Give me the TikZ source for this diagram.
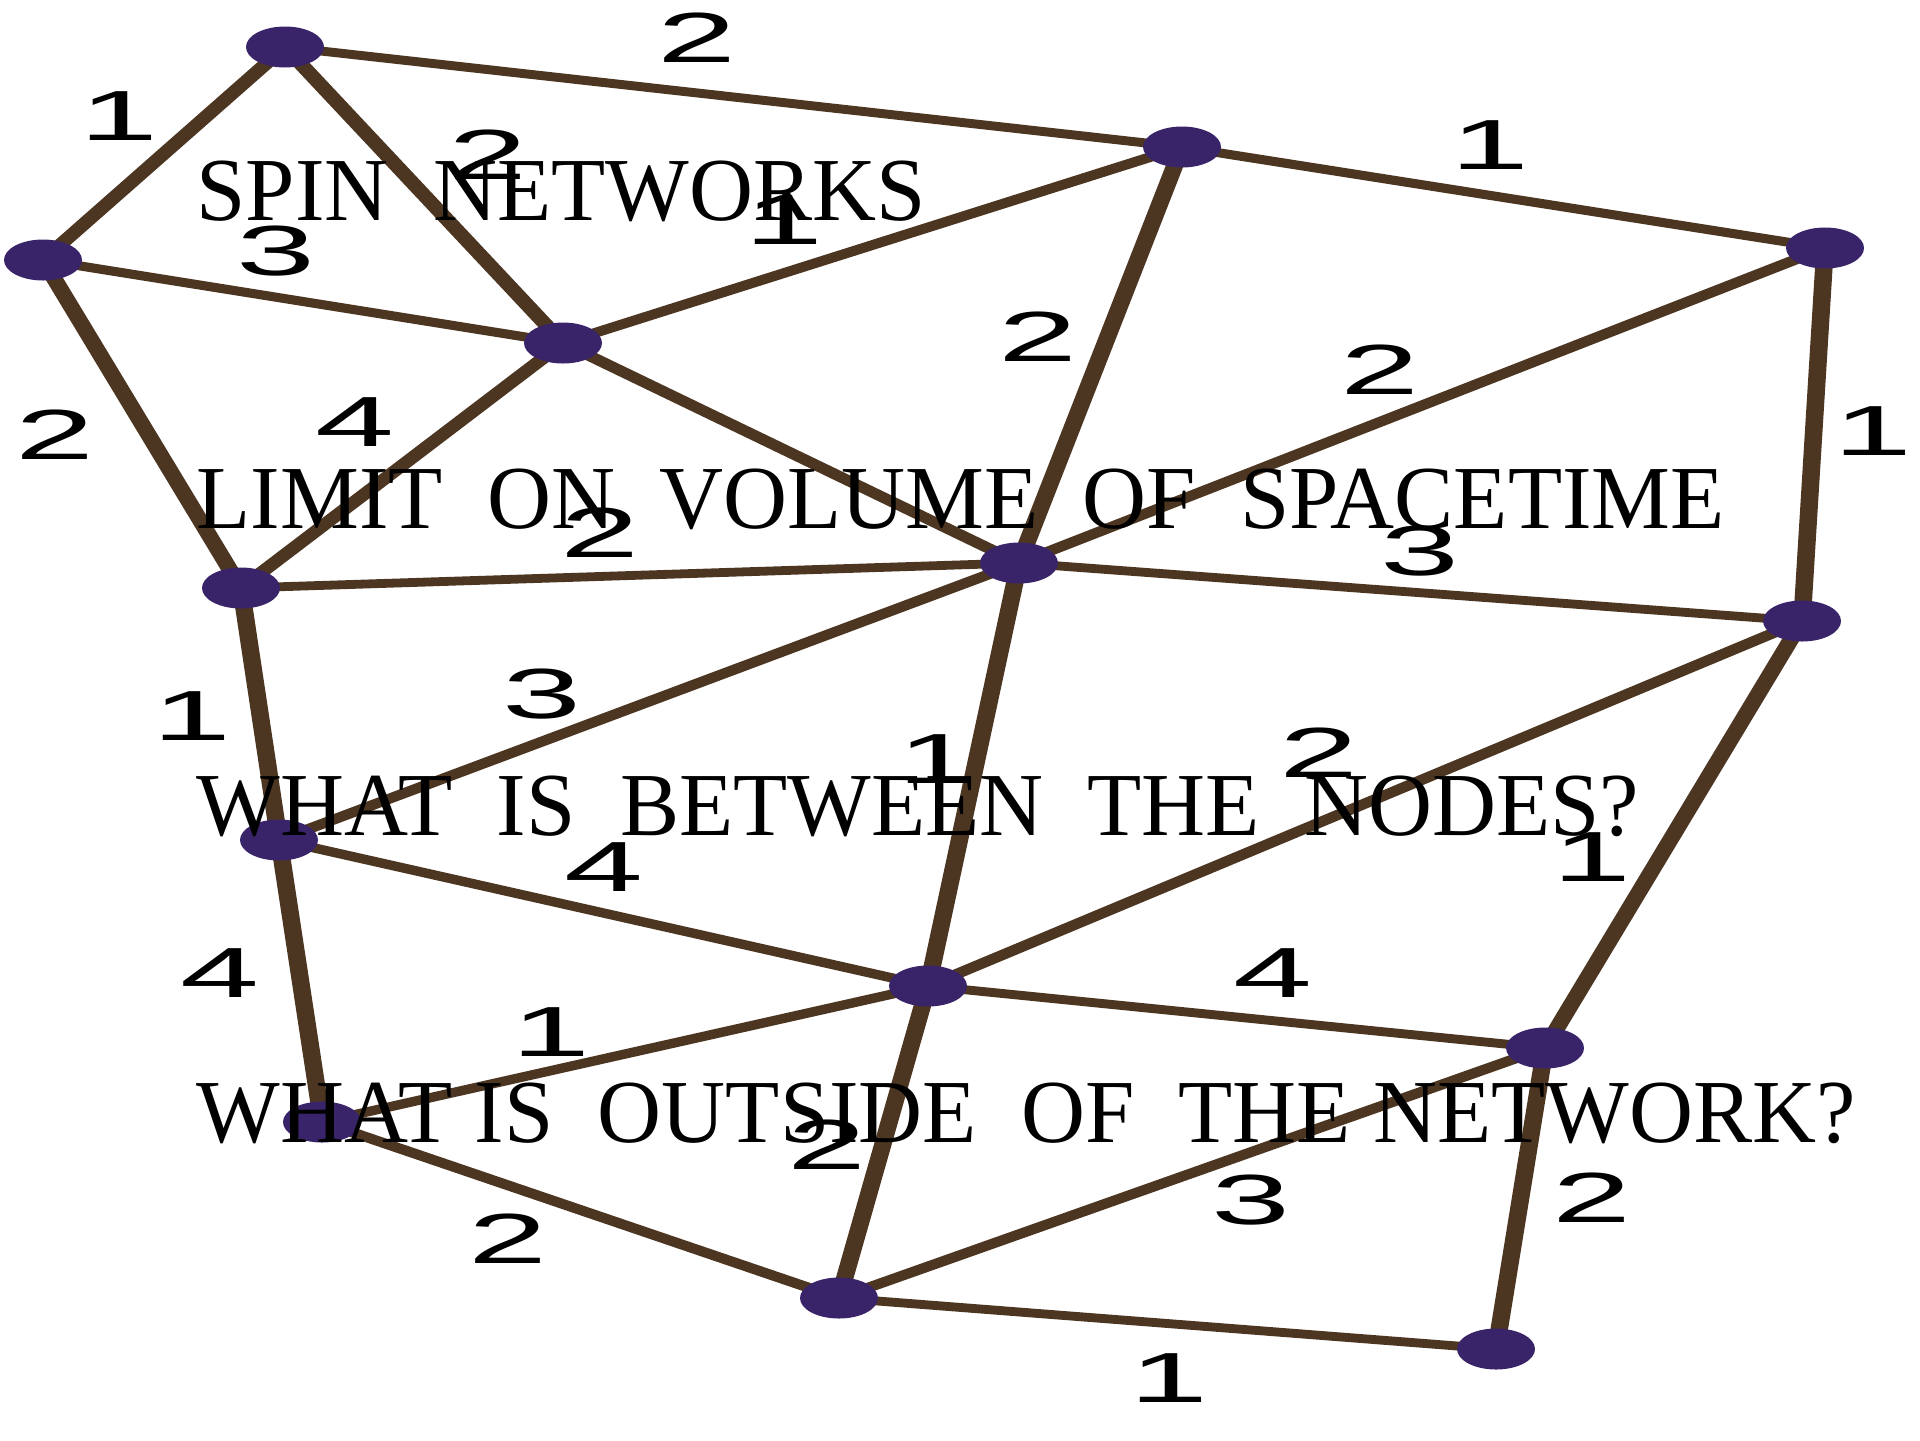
\documentclass[tikz,border=0pt]{standalone}
\usepackage{fontspec}
\usetikzlibrary{shapes.geometric}
\setmainfont{Liberation Serif}
\newfontfamily\digitfont{Liberation Sans}
\definecolor{edgebrown}{RGB}{76,54,34}
\definecolor{nodepurple}{RGB}{58,36,105}
\pgfdeclarelayer{edgelayer}
\pgfsetlayers{edgelayer,main}
\begin{document}
\begin{tikzpicture}[
  spinnode/.style={ellipse, fill=nodepurple, inner sep=0pt, minimum width=0.39cm, minimum height=0.41cm},
  spinedge/.style={draw=edgebrown, line width=2.5pt},
  spinlabel/.style={font=\digitfont\fontsize{20.2}{21}\selectfont, inner sep=0pt},
  caption/.style={font=\fontsize{25.6}{26}\selectfont, anchor=base west, inner sep=0pt}
]
\begin{pgfonlayer}{edgelayer}
\fill[white] (0,0) rectangle (19.2,-14.4);
\end{pgfonlayer}
\useasboundingbox (0,0) rectangle (19.2,-14.4);
\begin{scope}[transform canvas={xscale=2}]
  \node[spinnode] (A) at (1.425,-0.47) {};
  \node[spinnode] (B) at (5.91,-1.47) {};
  \node[spinnode] (C) at (9.125,-2.48) {};
  \node[spinnode] (D) at (0.215,-2.60) {};
  \node[spinnode] (E) at (2.815,-3.43) {};
  \node[spinnode] (F) at (5.095,-5.63) {};
  \node[spinnode] (G) at (1.205,-5.88) {};
  \node[spinnode] (H) at (9.01,-6.21) {};
  \node[spinnode] (I) at (1.395,-8.40) {};
  \node[spinnode] (J) at (4.64,-9.86) {};
  \node[spinnode] (K) at (7.725,-10.48) {};
  \node[spinnode] (L) at (1.61,-11.22) {};
  \node[spinnode] (M) at (4.195,-12.98) {};
  \node[spinnode] (N) at (7.48,-13.49) {};
  \node[spinlabel] (lAB) at (3.485,-0.38) {2};
  \node[spinlabel] (lBC) at (7.45,-1.45) {1};
  \node[spinlabel] (lAD) at (0.595,-1.16) {1};
  \node[spinlabel] (lAE) at (2.44,-1.55) {2};
  \node[spinlabel] (lDE) at (1.38,-2.51) {3};
  \node[spinlabel] (lEB) at (3.92,-2.20) {1};
  \node[spinlabel] (lBF) at (5.19,-3.37) {2};
  \node[spinlabel] (lCF) at (6.90,-3.70) {2};
  \node[spinlabel] (lCH) at (9.365,-4.31) {1};
  \node[spinlabel] (lDG) at (0.275,-4.35) {2};
  \node[spinlabel] (lEG) at (1.775,-4.22) {4};
  \node[spinlabel] (lGF) at (3.00,-5.33) {2};
  \node[spinlabel] (lFH) at (7.10,-5.51) {3};
  \node[spinlabel] (lGI) at (0.96,-7.16) {1};
  \node[spinlabel] (lIF) at (2.71,-6.94) {3};
  \node[spinlabel] (lFJ) at (4.685,-7.59) {1};
  \node[spinlabel] (lJH) at (6.595,-7.53) {2};
  \node[spinlabel] (lHK) at (7.96,-8.57) {1};
  \node[spinlabel] (lIJ) at (3.02,-8.67) {4};
  \node[spinlabel] (lIL) at (1.10,-9.73) {4};
  \node[spinlabel] (lJK) at (6.365,-9.73) {4};
  \node[spinlabel] (lJL) at (2.755,-10.32) {1};
  \node[spinlabel] (lJM) at (4.135,-11.45) {2};
  \node[spinlabel] (lLM) at (2.54,-12.39) {2};
  \node[spinlabel] (lMK) at (6.255,-12.00) {3};
  \node[spinlabel] (lKN) at (7.96,-11.98) {2};
  \node[spinlabel] (lMN) at (5.845,-13.78) {1};
\end{scope}
\begin{pgfonlayer}{edgelayer}
\begin{scope}[transform canvas={xscale=2}]
  \draw[spinedge] (A.center) -- (B.center);
  \draw[spinedge] (B.center) -- (C.center);
  \draw[spinedge] (A.center) -- (D.center);
  \draw[spinedge] (A.center) -- (E.center);
  \draw[spinedge] (D.center) -- (E.center);
  \draw[spinedge] (E.center) -- (B.center);
  \draw[spinedge] (B.center) -- (F.center);
  \draw[spinedge] (C.center) -- (F.center);
  \draw[spinedge] (C.center) -- (H.center);
  \draw[spinedge] (D.center) -- (G.center);
  \draw[spinedge] (E.center) -- (G.center);
  \draw[spinedge] (E.center) -- (F.center);
  \draw[spinedge] (G.center) -- (F.center);
  \draw[spinedge] (F.center) -- (H.center);
  \draw[spinedge] (G.center) -- (I.center);
  \draw[spinedge] (I.center) -- (F.center);
  \draw[spinedge] (F.center) -- (J.center);
  \draw[spinedge] (J.center) -- (H.center);
  \draw[spinedge] (H.center) -- (K.center);
  \draw[spinedge] (I.center) -- (J.center);
  \draw[spinedge] (I.center) -- (L.center);
  \draw[spinedge] (J.center) -- (K.center);
  \draw[spinedge] (J.center) -- (L.center);
  \draw[spinedge] (J.center) -- (M.center);
  \draw[spinedge] (L.center) -- (M.center);
  \draw[spinedge] (M.center) -- (K.center);
  \draw[spinedge] (K.center) -- (N.center);
  \draw[spinedge] (M.center) -- (N.center);
\end{scope}
\end{pgfonlayer}
\node[caption] (t1) at (1.96,-2.20) {\scalebox{0.985}[1]{SPIN~~NETWORKS}};
\node[caption] (t2) at (1.96,-5.28) {\scalebox{0.985}[1]{LIMIT~~ON~~VOLUME~~OF~~SPACETIME}};
\node[caption] (t3) at (1.96,-8.35) {\scalebox{0.985}[1]{WHAT~~IS~~BETWEEN~~THE~~NODES?}};
\node[caption] (t4) at (1.96,-11.42) {\scalebox{0.985}[1]{WHAT IS~~OUTSIDE~~OF~~THE NETWORK?}};
\end{tikzpicture}
\end{document}
